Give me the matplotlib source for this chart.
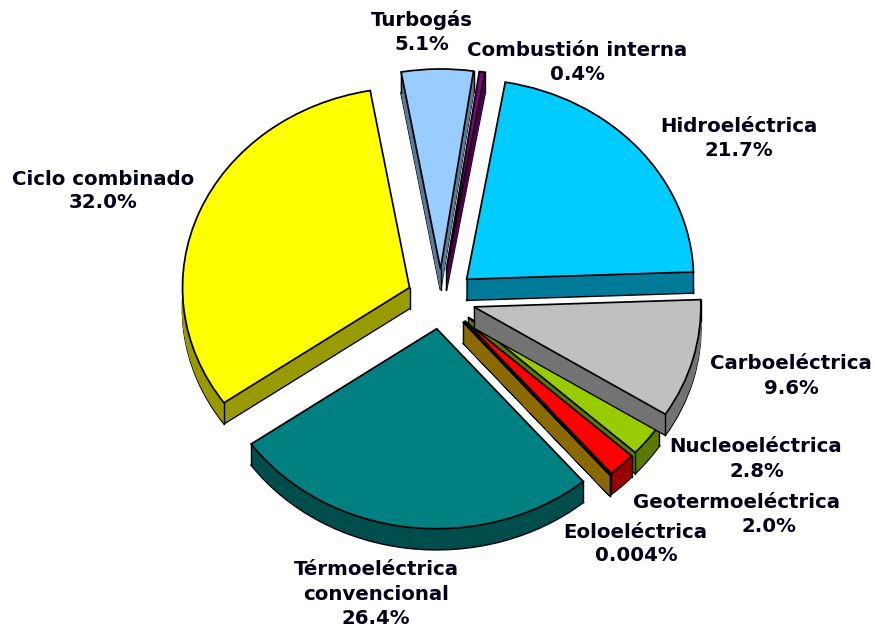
import numpy as np
import matplotlib
matplotlib.use('Agg')
import matplotlib.pyplot as plt

names = ['Turbogás', 'Combustión interna', 'Hidroeléctrica', 'Carboeléctrica',
         'Nucleoeléctrica', 'Geotermoeléctrica', 'Eoloeléctrica',
         'Térmoeléctrica\nconvencional', 'Ciclo combinado']
shares = [5.1, 0.4, 21.7, 9.6, 2.8, 2.0, 0.004, 26.4, 32.0]
share_labels = ['5.1%', '0.4%', '21.7%', '9.6%', '2.8%', '2.0%', '0.004%', '26.4%', '32.0%']

top_colors = ['#99CCFF', '#800080', '#00CCFF', '#C0C0C0', '#99CC00',
              '#FF0000', '#806000', '#008080', '#FFFF00']
side_colors = ['#5C7A99', '#4C004C', '#007A99', '#737373', '#5C7A00',
               '#990000', '#8A6A00', '#004D4D', '#999900']

# text centres in pixels of the 875x629 picture, first line of the name then the share
name_xy = [(422, 19), (577, 49), (739, 125), (791, 362), (756, 445),
           (737, 501), (635, 531), (376, 568), (103, 178)]
pct_xy = [(422, 43), (577, 73), (739, 149), (791, 387), (757, 470),
          (769, 525), (636, 554), (376, 617), (103, 201)]

# wedges are painted in this order, it is not physically right but the original does this
draw_order = [0, 1, 2, 8, 7, 4, 5, 6, 3]

W, H = 875, 629
CX, CY = 441, 299      # pie centre, pixels
RX, RY = 227, 200      # radius on screen
DEPTH = 21             # height of the slab, pixels
START = 100
EXPLODE = 0.15
LW = 1.25
LINE_STEP = 25
BASE_DROP = 7          # from the middle of a line down to its baseline


def draw_wedge(ax, i, start):
    frac = shares[i] / 100
    theta1 = start
    theta2 = start - shares[i] * 3.6
    mid = np.radians((theta1 + theta2) / 2)
    tip = np.array([EXPLODE * np.cos(mid), EXPLODE * np.sin(mid)])
    dz = 1 / RY

    kw = dict(normalize=False, startangle=start, counterclock=False, explode=[EXPLODE])
    ax.pie([frac], colors=[side_colors[i]], center=(0, -DEPTH * dz),
           wedgeprops=dict(edgecolor='black', linewidth=LW), **kw)
    for k in range(DEPTH - 1, 0, -1):
        ax.pie([frac], colors=[side_colors[i]], center=(0, -k * dz),
               wedgeprops=dict(edgecolor=side_colors[i], linewidth=0.5), **kw)
    # vertical corners of the slab, zorder 1 so the top face covers the hidden ones
    for a in [theta1, theta2]:
        a = np.radians(a)
        x = tip[0] + np.cos(a)
        y = tip[1] + np.sin(a)
        ax.plot([x, x], [y, y - DEPTH * dz], color='black', lw=LW * 0.8, zorder=1)
    ax.plot([tip[0], tip[0]], [tip[1], tip[1] - DEPTH * dz], color='black', lw=LW * 0.8, zorder=1)
    ax.pie([frac], colors=[top_colors[i]],
           wedgeprops=dict(edgecolor='black', linewidth=LW), **kw)


def put_text(ax, s, x, y):
    ax.text(x / W, 1 - (y + BASE_DROP) / H, s, transform=ax.transAxes,
            ha='center', va='baseline', fontsize=14.2, fontweight='bold',
            family='DejaVu Sans', color='#000018')


def main():
    fig = plt.figure(figsize=(W / 100, H / 100), dpi=100)
    ax = fig.add_axes([0, 0, 1, 1])

    starts = START - 3.6 * np.concatenate([[0], np.cumsum(shares)[:-1]])
    for i in draw_order:
        draw_wedge(ax, i, starts[i])

    ax.set_aspect('auto')
    ax.set_xlim(-CX / RX, (W - CX) / RX)
    ax.set_ylim(-(H - CY) / RY, CY / RY)
    ax.axis('off')

    for name, pct, (x, y), (px, py) in zip(names, share_labels, name_xy, pct_xy):
        for j, line in enumerate(name.split('\n')):
            put_text(ax, line, x, y + j * LINE_STEP)
        put_text(ax, pct, px, py)

    fig.savefig('out.png', dpi=100)
    plt.close(fig)


if __name__ == '__main__':
    main()
